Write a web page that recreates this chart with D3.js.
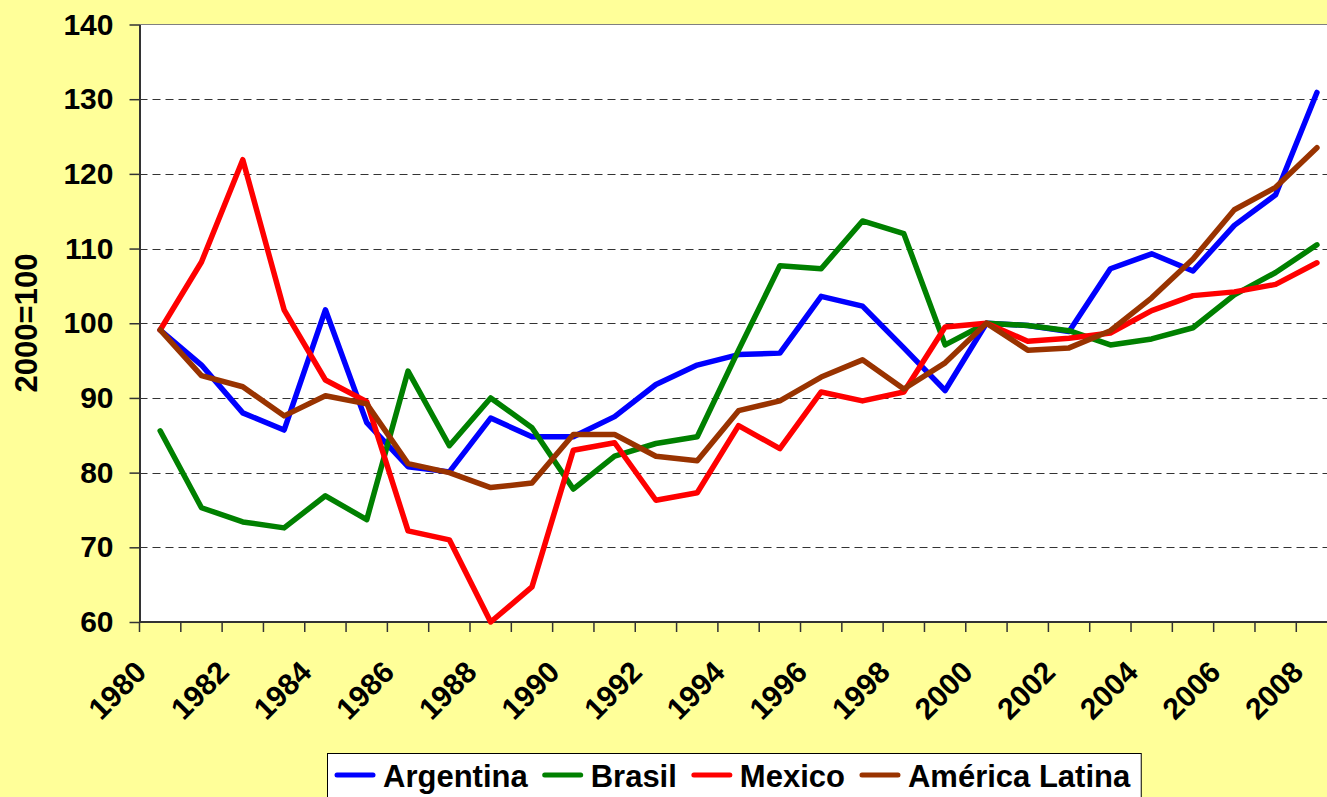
<!DOCTYPE html>
<html>
<head>
<meta charset="utf-8">
<script src="https://cdn.jsdelivr.net/npm/d3@7"></script>
<style>
  body { margin: 0; background: #FFFF99; }
  svg { display: block; font-family: Arial, "Liberation Sans", sans-serif; font-weight: bold; }
</style>
</head>
<body>
<script>
var w = 1327;
var h = 797;

var years = d3.range(1980, 2009);
var yTicks = [60, 70, 80, 90, 100, 110, 120, 130, 140];
var yTitle = '2000=100';

var argentina = [99.1, 94.4, 88.0, 85.7, 101.8, 86.7, 80.8, 80.1, 87.3, 84.8,
   84.8, 87.5, 91.8, 94.4, 95.8, 96.0, 103.6, 102.3, 96.7, 91.0,
   100, 99.7, 98.9, 107.3, 109.3, 107.0, 113.1, 117.2, 130.9];
var brasil = [85.6, 75.3, 73.4, 72.6, 76.9, 73.7, 93.6, 83.6, 90.0, 86.0,
   77.8, 82.2, 83.9, 84.8, 96.4, 107.7, 107.3, 113.7, 112.0, 97.1,
   100, 99.7, 99.0, 97.1, 97.9, 99.4, 103.8, 106.8, 110.5];
var mexico = [99.1, 108.2, 121.9, 101.8, 92.4, 89.5, 72.2, 71.0, 60.0, 64.7,
   83.0, 84.0, 76.3, 77.3, 86.3, 83.2, 90.8, 89.6, 90.8, 99.5,
   100, 97.6, 98.0, 98.7, 101.7, 103.7, 104.2, 105.2, 108.1];
var latina = [99.1, 93.0, 91.5, 87.6, 90.3, 89.2, 81.2, 80.0, 78.0, 78.6,
   85.1, 85.1, 82.2, 81.6, 88.3, 89.6, 92.8, 95.1, 91.2, 94.7,
   100, 96.4, 96.7, 99.0, 103.4, 108.6, 115.2, 118.2, 123.5];

var seriesNames = ['Argentina', 'Brasil', 'Mexico', 'América Latina'];
var seriesValues = [argentina, brasil, mexico, latina];
var colors = ['#0000FF', '#008000', '#FF0000', '#993300'];

var plotLeft = 139.5, plotRight = 1337.6, plotTop = 24.5, plotBottom = 622;

var svg = d3.select('body')
   .append('svg')
   .attr('width', w)
   .attr('height', h);

svg.append('rect')
   .attr('width', w)
   .attr('height', h)
   .attr('fill', '#FFFF99');

var x = d3.scaleBand()
   .domain(years)
   .range([plotLeft, plotRight]);

var y = d3.scaleLinear()
   .domain([60, 140])
   .range([plotBottom, plotTop]);

// plot area
svg.append('rect')
   .attr('x', plotLeft)
   .attr('y', plotTop)
   .attr('width', plotRight - plotLeft)
   .attr('height', plotBottom - plotTop)
   .attr('fill', 'white')
   .attr('stroke', '#808080')
   .attr('stroke-width', 1);

// dashed grid lines
svg.selectAll('line.grid')
   .data(yTicks.filter(function(d) { return d > 60 && d < 140; }))
   .enter()
   .append('line')
   .attr('class', 'grid')
   .attr('x1', plotLeft)
   .attr('x2', plotRight)
   .attr('y1', function(d) { return Math.round(y(d)) + 0.5; })
   .attr('y2', function(d) { return Math.round(y(d)) + 0.5; })
   .attr('stroke', '#333')
   .attr('stroke-width', 1)
   .attr('stroke-dasharray', '8,5');

// y axis
var yAxis = svg.append('g')
   .attr('transform', 'translate(' + plotLeft + ',0)')
   .call(d3.axisLeft(y).tickValues(yTicks).tickSize(10).tickPadding(16).tickSizeOuter(0));
yAxis.select('.domain').attr('stroke', '#333').attr('stroke-width', 2);
yAxis.selectAll('.tick line').attr('stroke', '#333').attr('stroke-width', 1.5);
yAxis.selectAll('.tick text')
   .attr('font-size', '30px')
   .attr('font-weight', 'bold')
   .attr('font-family', 'Arial, "Liberation Sans", sans-serif')
   .attr('fill', 'black');

// x axis: ticks at category boundaries
var boundaries = years.map(function(d) { return x(d); }).concat([x(years[years.length - 1]) + x.bandwidth()]);
svg.append('line')
   .attr('x1', plotLeft)
   .attr('x2', plotRight)
   .attr('y1', plotBottom)
   .attr('y2', plotBottom)
   .attr('stroke', '#333')
   .attr('stroke-width', 2);
svg.selectAll('line.xtick')
   .data(boundaries)
   .enter()
   .append('line')
   .attr('class', 'xtick')
   .attr('x1', function(d) { return d; })
   .attr('x2', function(d) { return d; })
   .attr('y1', plotBottom)
   .attr('y2', plotBottom + 10)
   .attr('stroke', '#333')
   .attr('stroke-width', 1.5);

svg.selectAll('text.xlabel')
   .data(years.filter(function(d) { return d % 2 === 0; }))
   .enter()
   .append('text')
   .attr('class', 'xlabel')
   .text(function(d) { return d; })
   .attr('transform', function(d) {
      return 'translate(' + (x(d) + x.bandwidth() / 2 - 12) + ',' + (plotBottom + 52) + ') rotate(-45)';
   })
   .attr('text-anchor', 'end')
   .attr('font-size', '30px')
   .attr('fill', 'black');

// y title
svg.append('text')
   .text(yTitle)
   .attr('transform', 'translate(37,323) rotate(-90)')
   .attr('text-anchor', 'middle')
   .attr('font-size', '31px')
   .attr('fill', 'black');

// lines
var line = d3.line()
   .x(function(d, i) { return x(years[i]) + x.bandwidth() / 2; })
   .y(function(d) { return y(d); });

svg.selectAll('path.series')
   .data(seriesValues)
   .enter()
   .append('path')
   .attr('class', 'series')
   .attr('d', line)
   .attr('fill', 'none')
   .attr('stroke', function(d, i) { return colors[i]; })
   .attr('stroke-width', 5.5)
   .attr('stroke-linejoin', 'round')
   .attr('stroke-linecap', 'round');

// legend
var legend = svg.append('g');
var legendBox = legend.append('rect')
   .attr('x', 327.5)
   .attr('y', 753.5)
   .attr('height', 60)
   .attr('fill', 'white')
   .attr('stroke', 'black')
   .attr('stroke-width', 1);

var lx = 335;
seriesNames.forEach(function(name, i) {
   legend.append('line')
      .attr('x1', lx + 2)
      .attr('x2', lx + 38)
      .attr('y1', 775)
      .attr('y2', 775)
      .attr('stroke', colors[i])
      .attr('stroke-width', 5)
      .attr('stroke-linecap', 'round');
   var t = legend.append('text')
      .text(name)
      .attr('x', lx + 48)
      .attr('y', 787)
      .attr('font-size', '31px')
      .attr('fill', 'black');
   lx = lx + 48 + t.node().getComputedTextLength() + 15;
});
legendBox.attr('width', lx - 15 + 11 - 327.5);
</script>
</body>
</html>
